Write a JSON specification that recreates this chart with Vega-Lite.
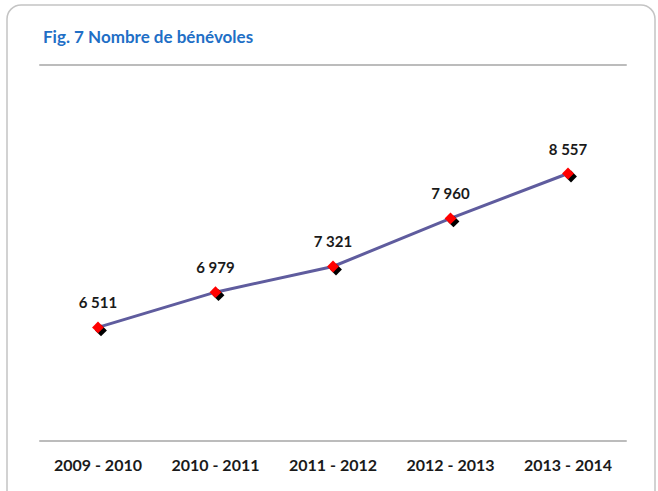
{
  "$schema": "https://vega.github.io/schema/vega-lite/v6.json",
  "autosize": "none",
  "width": 648,
  "height": 500,
  "padding": {"left": 7, "top": 5, "right": 3, "bottom": 0},
  "background": "white",
  "config": {
    "view": {"stroke": "#c4c4c4", "strokeWidth": 1.5, "cornerRadius": 14, "fill": "white"},
    "font": "Lato",
    "locale": {"number": {"decimal": ",", "thousands": " ", "grouping": [3], "currency": ["", " €"]}}
  },
  "title": {
    "text": "Fig. 7 Nombre de bénévoles",
    "anchor": "start",
    "frame": "group",
    "baseline": "alphabetic",
    "offset": -55,
    "dx": 36,
    "font": "Lato",
    "fontSize": 17,
    "fontWeight": "bold",
    "color": "#1f6fc6"
  },
  "data": {
    "values": [
      {"saison": "2009 - 2010", "benevoles": 6511},
      {"saison": "2010 - 2011", "benevoles": 6979},
      {"saison": "2011 - 2012", "benevoles": 7321},
      {"saison": "2012 - 2013", "benevoles": 7960},
      {"saison": "2013 - 2014", "benevoles": 8557}
    ]
  },
  "encoding": {
    "x": {
      "field": "saison",
      "type": "ordinal",
      "sort": null,
      "scale": {"domain": ["2009 - 2010", "2010 - 2011", "2011 - 2012", "2012 - 2013", "2013 - 2014"], "paddingInner": 0, "paddingOuter": 0.2574, "align": 0.533},
      "axis": {
        "title": null,
        "labelAngle": 0,
        "labelFont": "Lato",
        "labelFontSize": 16,
        "labelFontWeight": "bold",
        "labelColor": "#1a1a1a",
        "labelPadding": 0,
        "offset": -48,
        "ticks": false,
        "domain": false
      }
    },
    "y": {
      "field": "benevoles",
      "type": "quantitative",
      "scale": {"domain": [4149, 10798], "nice": false, "zero": false},
      "axis": null
    }
  },
  "layer": [
    {
      "data": {"values": [{"niveau": 5000}, {"niveau": 10000}]},
      "mark": {"type": "rule", "color": "#a6a6a6", "strokeWidth": 1.5},
      "encoding": {
        "y": {"field": "niveau", "type": "quantitative"},
        "x": {"datum": "2009 - 2010", "bandPosition": 0},
        "x2": {"datum": "2013 - 2014", "bandPosition": 1}
      }
    },
    {"mark": {"type": "line", "color": "#5f5c9e", "strokeWidth": 3}},
    {"mark": {"type": "point", "shape": "diamond", "filled": true, "color": "black", "size": 140, "opacity": 1, "xOffset": 3, "yOffset": 3}},
    {"mark": {"type": "point", "shape": "diamond", "filled": true, "color": "#ff0000", "size": 140, "opacity": 1}},
    {
      "mark": {"type": "text", "dy": -24, "font": "Lato", "fontSize": 15, "fontWeight": "bold", "color": "#1a1a1a"},
      "encoding": {"text": {"field": "benevoles", "type": "quantitative", "format": ",d"}}
    }
  ]
}
